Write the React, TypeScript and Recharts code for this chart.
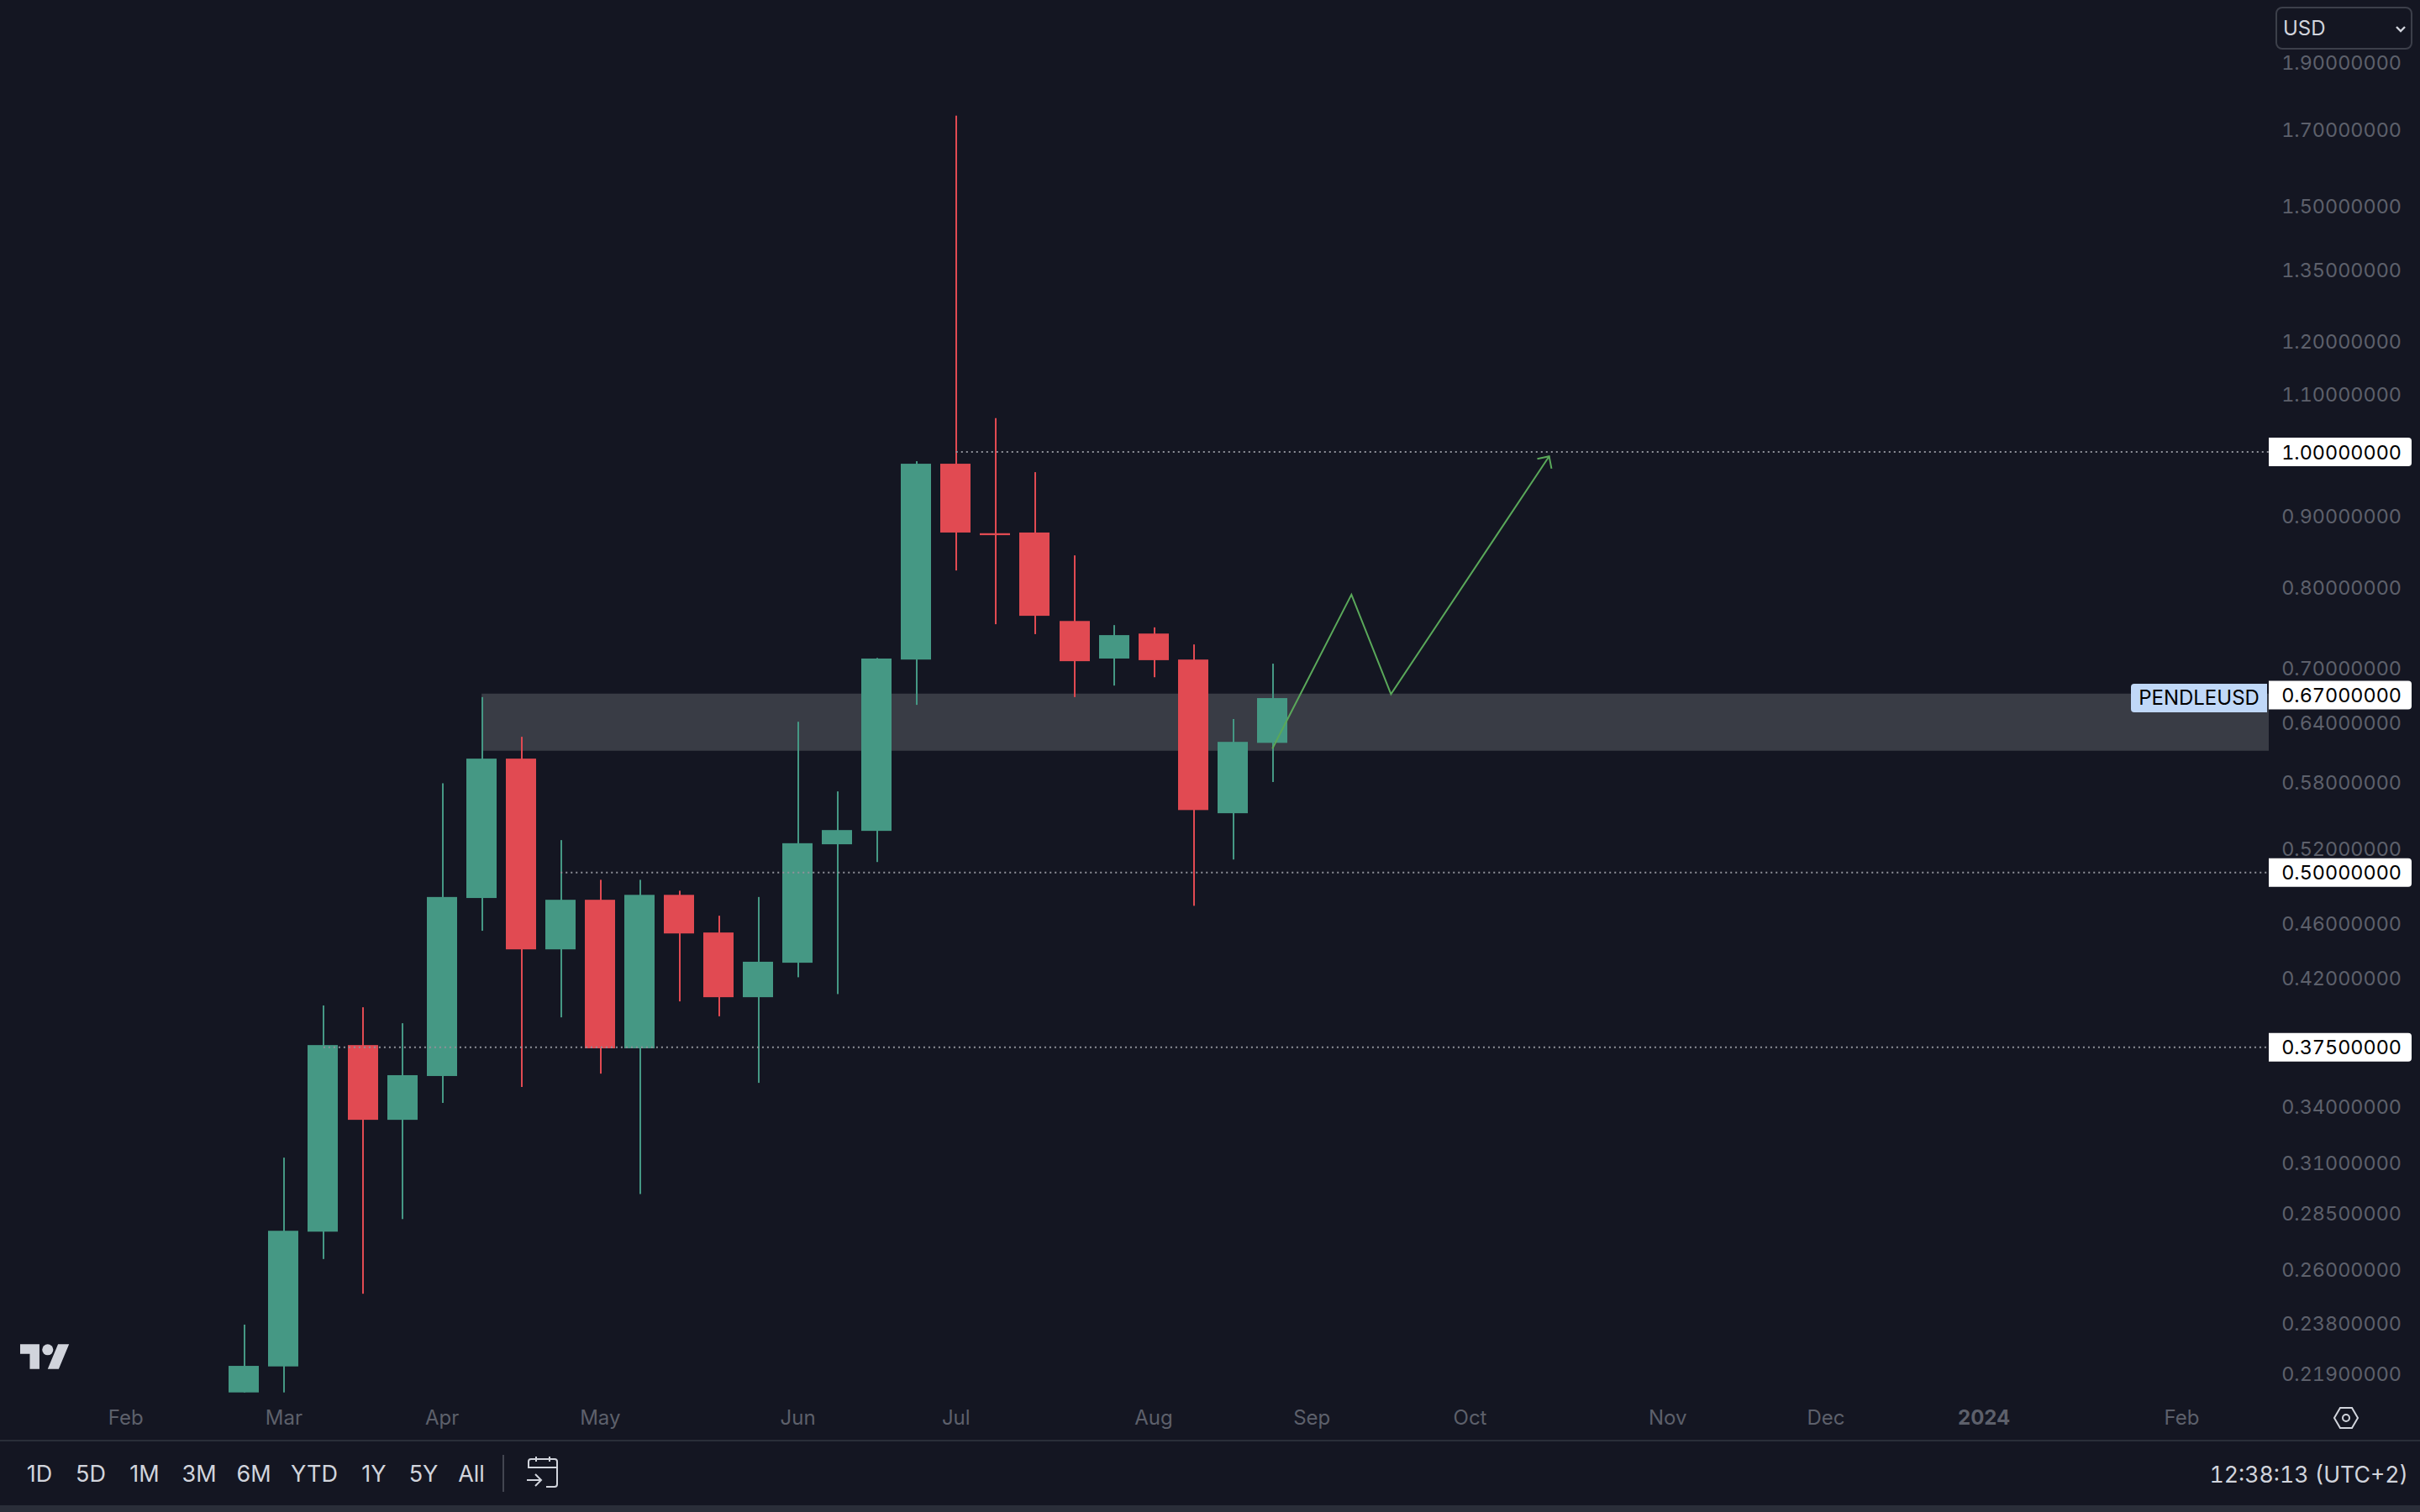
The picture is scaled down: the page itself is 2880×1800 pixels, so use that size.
import React from "react";
import {
  ComposedChart,
  Bar,
  Line,
  XAxis,
  YAxis,
  ReferenceArea,
  ReferenceLine,
} from "recharts";

const FONT = "Inter, 'Noto Sans', sans-serif";
const BG = "#141622";
const GREEN = "#459884";
const RED = "#e14a52";
const AXIS_TEXT = "#5d606b";
const UI_TEXT = "#d1d4dc";
const RULE = "#2a2e39";

// weekly candles
const opens = [0.2123, 0.2216, 0.2767, 0.3763, 0.3327, 0.3576, 0.4795, 0.6033, 0.4406, 0.4781, 0.3743, 0.482, 0.453, 0.4072, 0.431, 0.5239, 0.5356, 0.7103, 0.9808, 0.8747, 0.8757, 0.7569, 0.7115, 0.7414, 0.7103, 0.5514, 0.6192];
const closes = [0.2218, 0.2771, 0.3763, 0.3327, 0.3581, 0.4803, 0.6033, 0.4406, 0.4781, 0.3743, 0.482, 0.4523, 0.4072, 0.4317, 0.5248, 0.5363, 0.7115, 0.9808, 0.8757, 0.8719, 0.7634, 0.7084, 0.7395, 0.7096, 0.5543, 0.6202, 0.6666];
const highs = [0.2374, 0.3126, 0.4017, 0.4005, 0.3901, 0.5793, 0.6677, 0.6254, 0.5275, 0.4941, 0.4941, 0.4853, 0.4657, 0.4803, 0.6411, 0.5716, 0.7122, 0.9849, 1.7406, 1.0574, 0.9673, 0.8433, 0.7518, 0.749, 0.7282, 0.644, 0.7055];
const lows = [0.2123, 0.2123, 0.2645, 0.2498, 0.2825, 0.3421, 0.4543, 0.3512, 0.3939, 0.359, 0.2944, 0.4044, 0.3946, 0.3536, 0.4208, 0.4093, 0.5088, 0.6592, 0.8226, 0.7529, 0.7407, 0.6677, 0.6805, 0.6899, 0.4734, 0.5109, 0.5805];

const priceTicks = [1.9, 1.7, 1.5, 1.35, 1.2, 1.1, 1.0, 0.9, 0.8, 0.7, 0.67, 0.64, 0.58, 0.52, 0.5, 0.46, 0.42, 0.375, 0.34, 0.31, 0.285, 0.26, 0.238, 0.219];
const markedPrices = [1.0, 0.67, 0.5, 0.375];

const monthWeeks = [-3, 1, 5, 9, 14, 18, 23, 27, 31, 36, 40, 44, 49];
const monthLabels = ["Feb", "Mar", "Apr", "May", "Jun", "Jul", "Aug", "Sep", "Oct", "Nov", "Dec", "2024", "Feb"];

const rangeButtons = ["1D", "5D", "1M", "3M", "6M", "YTD", "1Y", "5Y", "All"];
const rangeButtonX = [47, 108, 172, 237, 302, 374, 445, 504, 561];

// drawn projection and its arrow head
const pathWeeks = [26, 28, 29, 33];
const pathPrices = [0.6133, 0.7905, 0.671, 0.9928];
const arrowWeeks = [32.7, 33, 33.06];
const arrowPrices = [0.9886, 0.9928, 0.973];

// horizontal levels: price and the week they start from
const levelPrices = [1.0, 0.5, 0.375];
const levelStartWeeks = [18, 8, 2];
const zoneTop = 0.6715;
const zoneBottom = 0.6111;
const zoneStartWeek = 6;

const X_MIN = -6.18;
const X_MAX = 51.2;
const PRICE_MIN = 0.2122;
const PRICE_MAX = 2.106;

const candles = opens.map((open, i) => ({
  week: i,
  wick: [lows[i], highs[i]],
  body: [Math.min(open, closes[i]), Math.max(open, closes[i])],
  up: closes[i] >= open,
}));
const pathData = pathWeeks.map((week, i) => ({ week, price: pathPrices[i] }));
const arrowData = arrowWeeks.map((week, i) => ({ week, price: arrowPrices[i] }));

function PriceTick({ y, payload }: any) {
  const marked = markedPrices.includes(payload.value);
  return (
    <g>
      {marked && <path d={`M2700 ${y - 17}h166a4 4 0 0 1 4 4v26a4 4 0 0 1 -4 4h-166z`} fill="#ffffff" />}
      <text
        x={2858}
        y={y}
        textAnchor="end"
        dominantBaseline="central"
        fontFamily={FONT}
        fontSize={23.4}
        style={{ fontVariantNumeric: "tabular-nums" }}
        fill={marked ? "#000000" : AXIS_TEXT}
      >
        {payload.value.toFixed(8)}
      </text>
    </g>
  );
}

function MonthTick({ x, y, payload }: any) {
  const label = monthLabels[monthWeeks.indexOf(payload.value)];
  return (
    <text
      x={x}
      y={y + 23}
      textAnchor="middle"
      dominantBaseline="central"
      fontFamily={FONT}
      fontSize={24}
      fontWeight={label === "2024" ? 700 : 400}
      fill={AXIS_TEXT}
    >
      {label}
    </text>
  );
}

// the bar only gives the vertical range, width is kept here and snapped to whole pixels
function CandleBody({ x, y, width, height, payload }: any) {
  const center = Math.round(x + width / 2);
  return <rect x={center - 18} y={y} width={36} height={height} fill={payload.up ? GREEN : RED} />;
}

function CandleWick({ x, y, width, height, payload }: any) {
  const center = Math.round(x + width / 2);
  return <rect x={center - 1} y={y} width={2} height={height} fill={payload.up ? GREEN : RED} />;
}

function CandleChart() {
  const sharedX = {
    type: "number" as const,
    dataKey: "week",
    domain: [X_MIN, X_MAX],
    allowDataOverflow: true,
    ticks: monthWeeks,
  };
  return (
    <ComposedChart width={2880} height={1715} data={candles} margin={{ top: 0, right: 0, bottom: 0, left: 0 }}>
      <XAxis
        {...sharedX}
        xAxisId="main"
        height={57}
        interval={0}
        axisLine={false}
        tickLine={false}
        tick={<MonthTick />}
        tickMargin={0}
      />
      <XAxis {...sharedX} xAxisId="wicks" hide />
      <YAxis
        yAxisId="price"
        orientation="right"
        width={180}
        scale="log"
        domain={[PRICE_MIN, PRICE_MAX]}
        allowDataOverflow
        ticks={priceTicks}
        interval={0}
        axisLine={false}
        tickLine={false}
        tick={<PriceTick />}
      />
      <ReferenceArea
        xAxisId="main"
        yAxisId="price"
        x1={zoneStartWeek}
        x2={X_MAX}
        y1={zoneBottom}
        y2={zoneTop}
        fill="#393c45"
        fillOpacity={1}
        stroke="none"
      />
      {levelPrices.map((price, i) => (
        <ReferenceLine
          key={price}
          xAxisId="main"
          yAxisId="price"
          segment={[
            { x: levelStartWeeks[i], y: price },
            { x: X_MAX, y: price },
          ]}
          stroke="#8f9199"
          strokeWidth={2}
          strokeDasharray="2 4"
        />
      ))}
      <Line
        xAxisId="main"
        yAxisId="price"
        data={pathData}
        dataKey="price"
        stroke="#5aa85a"
        strokeWidth={2}
        dot={false}
        activeDot={false}
        isAnimationActive={false}
      />
      <Line
        xAxisId="main"
        yAxisId="price"
        data={arrowData}
        dataKey="price"
        stroke="#5aa85a"
        strokeWidth={2}
        dot={false}
        activeDot={false}
        isAnimationActive={false}
      />
      <Bar
        xAxisId="wicks"
        yAxisId="price"
        dataKey="wick"
        barSize={2}
        shape={<CandleWick />}
        isAnimationActive={false}
      />
      <Bar
        xAxisId="main"
        yAxisId="price"
        dataKey="body"
        barSize={2}
        shape={<CandleBody />}
        isAnimationActive={false}
      />
    </ComposedChart>
  );
}

const abs = (left: number, top: number, extra: React.CSSProperties = {}): React.CSSProperties => ({
  position: "absolute",
  left,
  top,
  ...extra,
});

export default function App() {
  return (
    <div
      style={{
        position: "fixed",
        left: 0,
        top: 0,
        width: 2880,
        height: 1800,
        overflow: "hidden",
        background: BG,
        fontFamily: FONT,
      }}
    >
      <CandleChart />

      {/* currency box sits over the top price label */}
      <div style={abs(2700, 0, { width: 180, height: 66, background: BG })} />
      <div
        style={abs(2708, 8, {
          width: 163,
          height: 51,
          boxSizing: "border-box",
          border: "2px solid #3c3f4a",
          borderRadius: 8,
          color: UI_TEXT,
          fontSize: 24,
          lineHeight: "47px",
          paddingLeft: 7,
        })}
      >
        USD
      </div>
      <svg style={abs(2850, 30)} width={14} height={10} viewBox="0 0 14 10">
        <path d="M2 2l5 5 5-5" fill="none" stroke={UI_TEXT} strokeWidth={2.4} />
      </svg>

      <div
        style={abs(2536, 814, {
          width: 162,
          height: 34,
          background: "#c0d8f8",
          borderRadius: "4px 0 0 4px",
          color: "#000",
          fontSize: 24,
          lineHeight: "34px",
          textAlign: "center",
        })}
      >
        PENDLEUSD
      </div>

      <svg style={abs(24, 1600)} width={59} height={30} viewBox="0 4 36 18">
        <path d="M14 22H7V11H0V4h14v18zM28 22h-8l7.5-18h8L28 22z" fill={UI_TEXT} />
        <circle cx={20} cy={8} r={4} fill={UI_TEXT} />
      </svg>

      <svg style={abs(2776, 1674)} width={32} height={28} viewBox="0 0 32 28">
        <path d="M9 2h14l7 12-7 12H9L2 14z" fill="none" stroke={UI_TEXT} strokeWidth={2} />
        <circle cx={16} cy={14} r={4} fill="none" stroke={UI_TEXT} strokeWidth={2} />
      </svg>

      <div style={abs(0, 1714, { width: 2880, height: 2, background: RULE })} />
      {rangeButtons.map((label, i) => (
        <div
          key={label}
          style={abs(rangeButtonX[i] - 50, 1735, {
            width: 100,
            textAlign: "center",
            color: UI_TEXT,
            fontSize: 27,
            lineHeight: "40px",
          })}
        >
          {label}
        </div>
      ))}
      <div style={abs(598, 1732, { width: 2, height: 44, background: "#434651" })} />
      <svg style={abs(626, 1733)} width={40} height={38} viewBox="0 0 40 38">
        <path
          d="M3 15V7a3 3 0 0 1 3-3h28a3 3 0 0 1 3 3v27a3 3 0 0 1-3 3H24M3 14h34M12 1v6M28 1v6M1 29h16M11 22l7 7-7 7"
          fill="none"
          stroke={UI_TEXT}
          strokeWidth={2}
        />
      </svg>
      <div
        style={abs(2466, 1735, {
          width: 400,
          textAlign: "right",
          color: UI_TEXT,
          fontSize: 26.7,
          lineHeight: "40px",
          fontVariantNumeric: "tabular-nums",
        })}
      >
        12:38:13 (UTC+2)
      </div>
      <div style={abs(0, 1792, { width: 2880, height: 8, background: RULE })} />
    </div>
  );
}
